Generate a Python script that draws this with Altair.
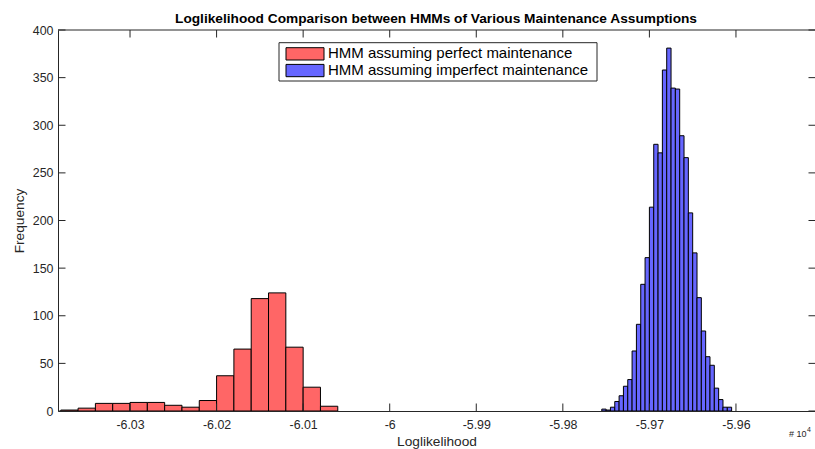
import altair as alt
import pandas as pd

# ---- data (x in units of 10^4) ----
series_names = ["HMM assuming perfect maintenance", "HMM assuming imperfect maintenance"]
series_colors = ["#FF6666", "#6666FF"]

red_starts = [-6.038, -6.036, -6.034, -6.032, -6.030, -6.028, -6.026, -6.024,
              -6.022, -6.020, -6.018, -6.016, -6.014, -6.012, -6.010, -6.008]
red_counts = [1, 3, 8, 8, 9, 9, 6, 4, 11, 37, 65, 118, 124, 67, 25, 5]
red_width = 0.002

blue_starts = [-5.9755, -5.9750, -5.9745, -5.9740, -5.9735, -5.9730, -5.9725, -5.9720,
               -5.9715, -5.9710, -5.9705, -5.9700, -5.9695, -5.9690, -5.9685, -5.9680,
               -5.9675, -5.9670, -5.9665, -5.9660, -5.9655, -5.9650, -5.9645, -5.9640,
               -5.9635, -5.9630, -5.9625, -5.9620, -5.9615, -5.9610]
blue_counts = [2, 1, 4, 10, 16, 26, 33, 63, 91, 133, 161, 214, 280, 271, 358, 381,
               339, 338, 289, 266, 208, 166, 119, 84, 57, 48, 24, 12, 4, 4]
blue_width = 0.0005

x_ticks = [-6.03, -6.02, -6.01, -6.0, -5.99, -5.98, -5.97, -5.96]
y_ticks = [0, 50, 100, 150, 200, 250, 300, 350, 400]
x_domain = [-6.03832, -5.95087]
y_domain = [0, 400]

title_text = "Loglikelihood Comparison between HMMs of Various Maintenance Assumptions"
x_title = "Loglikelihood"
y_title = "Frequency"

# ---- build tables ----
rows = []
for s, c in zip(red_starts, red_counts):
    rows.append({"start": s, "end": s + red_width, "count": c, "series": series_names[0]})
for s, c in zip(blue_starts, blue_counts):
    rows.append({"start": s, "end": s + blue_width, "count": c, "series": series_names[1]})
df = pd.DataFrame(rows)

W, H = 757, 381
FONT = "Liberation Sans"
AXC = "#262626"
TICK = 7.5

xscale = alt.Scale(domain=x_domain, nice=False, zero=False)
yscale = alt.Scale(domain=y_domain, nice=False, zero=False)

x_axis = alt.Axis(title=x_title, values=x_ticks, ticks=False, tickSize=0, grid=False,
                  domain=True, domainColor=AXC, domainWidth=1,
                  labelFont=FONT, labelFontSize=12.4, labelColor=AXC, labelPadding=7.5,
                  labelExpr="replace(format(datum.value, '~g'), '\u2212', '-')",
                  labelFlush=False, labelOverlap=False,
                  titleFont=FONT, titleFontSize=13.7, titleFontWeight="normal",
                  titleColor=AXC, titleY=34, titleBaseline="alphabetic")
y_axis = alt.Axis(title=y_title, values=y_ticks, ticks=False, tickSize=0, grid=False,
                  domain=True, domainColor=AXC, domainWidth=1,
                  labelFont=FONT, labelFontSize=12.4, labelColor=AXC, labelPadding=5,
                  labelFlush=False, labelOverlap=False,
                  titleFont=FONT, titleFontSize=13.7, titleFontWeight="normal",
                  titleColor=AXC, titleX=-39, titleBaseline="middle")

bars = alt.Chart(df).mark_bar(stroke="black", strokeWidth=1, clip=True, opacity=1).encode(
    x=alt.X("start:Q", scale=xscale, axis=x_axis),
    x2="end:Q",
    y=alt.Y("count:Q", scale=yscale, axis=y_axis),
    y2=alt.datum(0),
    color=alt.Color("series:N", scale=alt.Scale(domain=series_names, range=series_colors),
                    legend=None),
)

xt = pd.DataFrame({"start": x_ticks})
yt = pd.DataFrame({"count": y_ticks})

bottom_ticks = alt.Chart(xt).mark_rule(color=AXC, strokeWidth=1).encode(
    x=alt.X("start:Q", scale=xscale, axis=x_axis), y=alt.value(H), y2=alt.value(H - TICK))
top_ticks = alt.Chart(xt).mark_rule(color=AXC, strokeWidth=1).encode(
    x=alt.X("start:Q", scale=xscale, axis=x_axis), y=alt.value(0), y2=alt.value(TICK))
left_ticks = alt.Chart(yt).mark_rule(color=AXC, strokeWidth=1).encode(
    y=alt.Y("count:Q", scale=yscale, axis=y_axis), x=alt.value(0), x2=alt.value(TICK))
right_ticks = alt.Chart(yt).mark_rule(color=AXC, strokeWidth=1).encode(
    y=alt.Y("count:Q", scale=yscale, axis=y_axis), x=alt.value(W + 1), x2=alt.value(W + 1 - TICK))

one = pd.DataFrame({"k": [0]})
top_border = alt.Chart(one).mark_rule(color=AXC, strokeWidth=1).encode(
    x=alt.value(0), x2=alt.value(W + 1), y=alt.value(0))

title_mark = alt.Chart(one).mark_text(align="center", baseline="alphabetic", font=FONT,
                                      fontSize=13.7, fontWeight="bold", color="black").encode(
    x=alt.value(378), y=alt.value(-7.5), text=alt.value(title_text))

# legend (drawn by hand)
leg_box = alt.Chart(one).mark_rect(fill="white", stroke=AXC, strokeWidth=1).encode(
    x=alt.value(221), x2=alt.value(539), y=alt.value(12.7), y2=alt.value(51))
legend_layers = [leg_box]
for i, (name, col) in enumerate(zip(series_names, series_colors)):
    dy = 16.7 * i
    legend_layers.append(
        alt.Chart(one).mark_rect(fill=col, stroke="black", strokeWidth=1).encode(
            x=alt.value(228), x2=alt.value(266), y=alt.value(17.7 + dy), y2=alt.value(30 + dy)))
    legend_layers.append(
        alt.Chart(one).mark_text(align="left", baseline="alphabetic", font=FONT, fontSize=15,
                                 color="black").encode(
            x=alt.value(270), y=alt.value(28.3 + dy), text=alt.value(name)))

mult = alt.Chart(one).mark_text(align="left", baseline="alphabetic", font=FONT, fontSize=9,
                                color=AXC).encode(
    x=alt.value(731), y=alt.value(407), text=alt.value("# 10"))
mult_exp = alt.Chart(one).mark_text(align="left", baseline="alphabetic", font=FONT, fontSize=7,
                                    color=AXC).encode(
    x=alt.value(749), y=alt.value(402), text=alt.value("4"))

chart = alt.layer(
    bars, bottom_ticks, top_ticks, left_ticks, right_ticks, top_border, title_mark,
    *legend_layers, mult, mult_exp
).properties(
    width=W, height=H,
    autosize=alt.AutoSizeParams(type="none"),
    padding={"left": 58, "top": 30, "right": 0, "bottom": 38},
    background="white",
).configure_view(stroke=None)

chart.save("out.html", embed_options={"renderer": "svg", "actions": False})
